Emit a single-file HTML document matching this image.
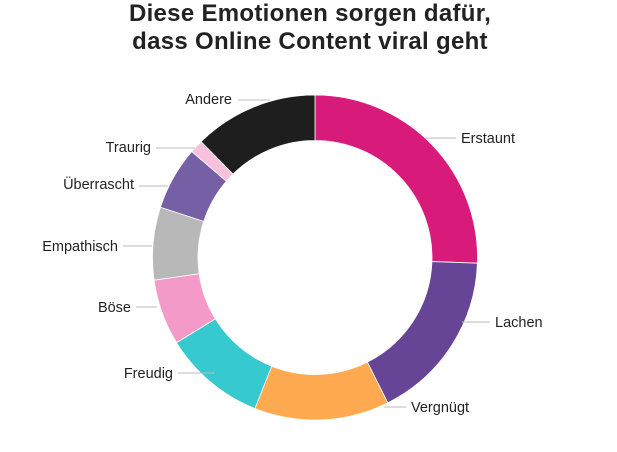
<!DOCTYPE html>
<html><head><meta charset="utf-8"><style>
html,body{margin:0;padding:0;background:#fff;width:617px;height:452px;overflow:hidden}
.t{position:absolute;left:0;width:620px;text-align:center;font-family:"Liberation Sans",sans-serif;font-weight:bold;font-size:24px;letter-spacing:0.3px;color:#222}
</style></head><body>
<div class="t" style="top:0px">Diese Emotionen sorgen dafür,</div>
<div class="t" style="top:28px">dass Online Content viral geht</div>
<svg id="s" width="617" height="452" style="position:absolute;left:0;top:0" font-family="Liberation Sans, sans-serif" font-size="14.5" fill="#222">
<g stroke="#bbb" stroke-width="1">
<line x1="425" y1="138" x2="456" y2="138"/>
<line x1="462" y1="322" x2="490" y2="322"/>
<line x1="384" y1="407" x2="406" y2="407"/>
<line x1="178" y1="373" x2="215" y2="373"/>
<line x1="136" y1="307" x2="157" y2="307"/>
<line x1="123" y1="246" x2="152" y2="246"/>
<line x1="139" y1="186" x2="168" y2="186"/>
<line x1="156" y1="148" x2="195" y2="148"/>
<line x1="238" y1="100" x2="270" y2="100"/>
</g>
<text x="461" y="143">Erstaunt</text>
<text x="495" y="327">Lachen</text>
<text x="411" y="412">Vergnügt</text>
<text x="173" y="378" text-anchor="end">Freudig</text>
<text x="131" y="312" text-anchor="end">Böse</text>
<text x="118" y="251" text-anchor="end">Empathisch</text>
<text x="134" y="189" text-anchor="end">Überrascht</text>
<text x="151" y="152" text-anchor="end">Traurig</text>
<text x="232" y="104" text-anchor="end">Andere</text>
</svg>
<script>
var cx=315,cy=257.5,R=162.5,r=117;
var segs=[[0,92,"#d81b7a"],[92,153.4,"#664496"],[153.4,201.7,"#ffaa50"],[201.7,238.4,"#36c9d0"],[238.4,262,"#f49ac9"],[262,288,"#b8b8b8"],[288,310.7,"#7560a5"],[310.7,315.5,"#f7c0dc"],[315.5,360,"#1e1e1e"]];
function p(a,rr){a=a*Math.PI/180;return (cx+rr*Math.sin(a)).toFixed(2)+","+(cy-rr*Math.cos(a)).toFixed(2);}
var s=document.getElementById("s"),h="";
segs.forEach(function(g){var l=(g[1]-g[0])>180?1:0;
h+='<path d="M'+p(g[0],R)+' A'+R+','+R+' 0 '+l+' 1 '+p(g[1],R)+' L'+p(g[1],r)+' A'+r+','+r+' 0 '+l+' 0 '+p(g[0],r)+' Z" fill="'+g[2]+'" stroke="#fff" stroke-width="0.8"/>';});
s.insertAdjacentHTML("afterbegin",h);
</script>
</body></html>
